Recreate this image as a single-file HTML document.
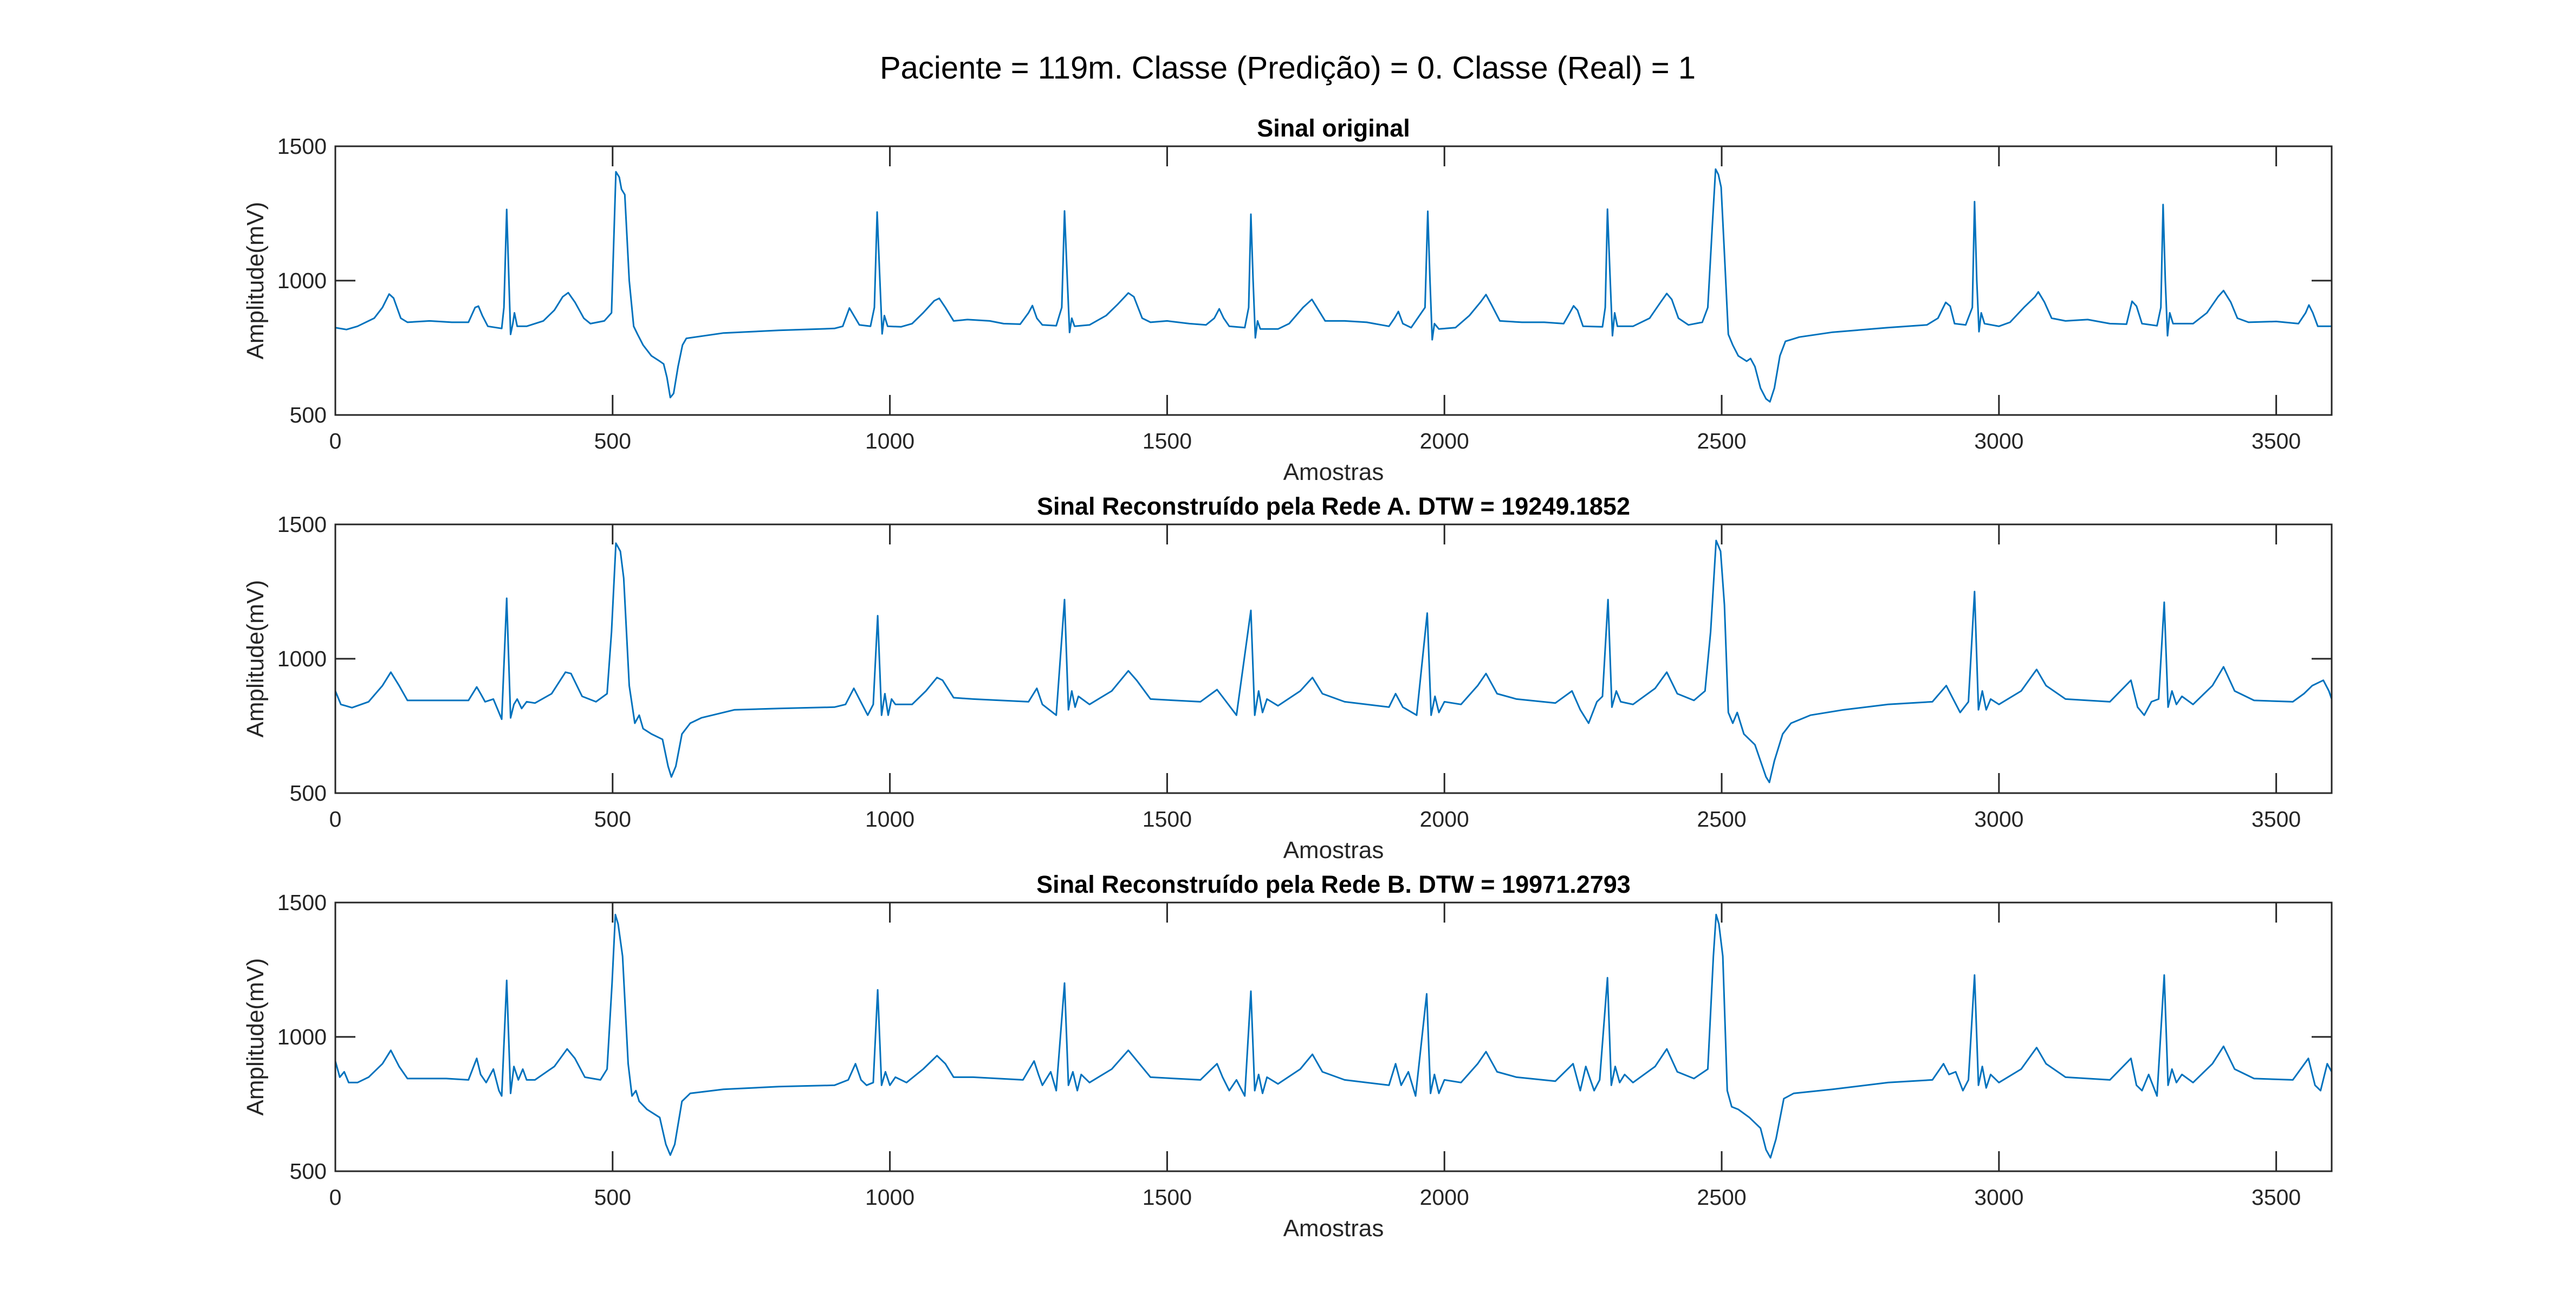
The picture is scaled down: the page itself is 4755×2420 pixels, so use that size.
<!DOCTYPE html>
<html><head><meta charset="utf-8"><style>html,body{margin:0;padding:0;background:#fff}svg{display:block}</style></head>
<body>
<svg id="fig" width="4755" height="2420" xmlns="http://www.w3.org/2000/svg" font-family="Liberation Sans, Arial, sans-serif">
<text x="2377" y="145" text-anchor="middle" font-size="58" fill="#000">Paciente = 119m. Classe (Predição) = 0. Classe (Real) = 1</text>
</svg>
<script>
const xTicks = [0,500,1000,1500,2000,2500,3000,3500];
const yTicks = [500,1000,1500];
const panelTitles = ["Sinal original","Sinal Reconstruído pela Rede A. DTW = 19249.1852","Sinal Reconstruído pela Rede B. DTW = 19971.2793"];
const origSignal = [[0,825],[20,818],[40,830],[70,860],[85,900],[97,950],[105,935],[118,860],[130,845],[170,850],[210,845],[240,845],[252,900],[258,905],[265,870],[275,830],[300,822],[304,900],[309,1265],[313,1000],[316,800],[320,840],[323,880],[328,830],[345,830],[375,850],[395,890],[410,940],[420,955],[432,920],[448,860],[460,840],[485,850],[498,880],[506,1405],[512,1385],[516,1340],[522,1320],[530,1000],[538,830],[545,800],[555,760],[570,720],[585,700],[592,690],[598,640],[604,565],[610,580],[618,680],[626,760],[633,785],[700,805],[800,815],[900,822],[915,830],[927,898],[935,870],[945,835],[965,830],[972,900],[977,1255],[982,1000],[986,802],[990,870],[996,830],[1020,828],[1040,840],[1060,880],[1080,925],[1089,934],[1100,900],[1115,850],[1140,855],[1180,850],[1205,840],[1235,838],[1250,880],[1257,907],[1265,860],[1275,835],[1300,832],[1310,900],[1315,1259],[1320,1000],[1324,807],[1328,860],[1333,830],[1360,835],[1390,870],[1410,910],[1430,954],[1440,940],[1455,860],[1470,845],[1500,850],[1540,840],[1570,835],[1585,860],[1594,895],[1602,860],[1612,830],[1640,825],[1647,900],[1651,1247],[1655,1000],[1659,787],[1663,850],[1668,820],[1700,820],[1720,840],[1745,900],[1761,930],[1770,900],[1785,850],[1820,850],[1860,845],[1900,830],[1910,860],[1917,885],[1925,840],[1940,825],[1965,900],[1970,1258],[1974,1000],[1978,780],[1982,840],[1990,820],[2020,825],[2045,870],[2065,920],[2075,948],[2085,910],[2100,850],[2140,845],[2180,845],[2215,840],[2226,880],[2233,906],[2240,890],[2250,830],[2285,828],[2290,900],[2294,1266],[2299,1000],[2303,795],[2307,880],[2312,830],[2340,830],[2370,860],[2390,920],[2401,952],[2410,930],[2422,860],[2440,835],[2465,845],[2475,900],[2483,1200],[2489,1415],[2494,1395],[2499,1348],[2505,1100],[2512,800],[2520,760],[2530,720],[2545,700],[2552,710],[2560,680],[2570,600],[2580,560],[2587,549],[2595,600],[2605,720],[2615,774],[2640,790],[2700,808],[2800,825],[2870,835],[2890,860],[2904,919],[2912,905],[2920,840],[2940,835],[2952,900],[2956,1294],[2960,1000],[2964,810],[2968,880],[2974,840],[3000,830],[3020,845],[3045,900],[3065,940],[3071,958],[3082,920],[3095,860],[3120,850],[3160,855],[3200,840],[3230,838],[3240,923],[3248,905],[3258,840],[3285,832],[3292,900],[3296,1283],[3300,1000],[3304,795],[3308,880],[3314,840],[3350,840],[3375,880],[3395,940],[3405,963],[3418,920],[3430,860],[3450,845],[3500,848],[3540,840],[3553,880],[3559,909],[3566,880],[3575,830],[3600,830]];
const redeASignal = [[0,880],[10,830],[30,818],[60,840],[85,900],[100,950],[115,900],[130,845],[200,845],[240,845],[255,895],[262,870],[270,840],[285,850],[300,775],[309,1225],[316,780],[322,830],[328,850],[336,815],[345,840],[360,835],[390,870],[415,950],[425,945],[445,860],[470,840],[490,870],[498,1100],[506,1430],[514,1400],[520,1300],[530,900],[540,760],[548,790],[555,740],[570,720],[590,700],[600,600],[606,560],[614,600],[625,720],[640,760],[660,780],[720,810],[800,815],[900,820],[920,830],[935,890],[945,850],[960,790],[970,830],[978,1160],[985,790],[991,870],[997,790],[1003,850],[1010,830],[1040,830],[1065,880],[1085,930],[1095,920],[1115,855],[1150,850],[1250,840],[1265,890],[1275,830],[1300,790],[1315,1220],[1322,810],[1328,880],[1334,820],[1340,860],[1360,830],[1400,880],[1430,955],[1445,920],[1470,850],[1560,840],[1590,885],[1603,850],[1625,790],[1651,1180],[1658,790],[1665,880],[1672,800],[1680,850],[1700,825],[1740,880],[1762,930],[1780,870],[1820,840],[1900,820],[1912,870],[1925,820],[1950,790],[1969,1170],[1976,790],[1983,860],[1990,800],[2000,840],[2030,830],[2060,900],[2075,945],[2095,870],[2130,850],[2200,835],[2230,880],[2245,810],[2260,760],[2275,840],[2285,860],[2295,1220],[2302,820],[2310,880],[2318,840],[2340,830],[2380,890],[2401,950],[2420,870],[2450,845],[2470,880],[2480,1100],[2490,1440],[2498,1400],[2505,1200],[2512,800],[2520,760],[2528,800],[2540,720],[2560,680],[2580,560],[2586,540],[2595,620],[2610,720],[2625,760],[2660,790],[2720,810],[2800,830],[2880,840],[2905,900],[2915,860],[2930,800],[2945,840],[2956,1250],[2963,810],[2970,880],[2977,810],[2985,850],[3000,830],[3040,880],[3068,960],[3085,900],[3120,850],[3200,840],[3238,920],[3250,820],[3262,790],[3275,840],[3288,850],[3298,1210],[3305,820],[3312,880],[3320,830],[3330,860],[3350,830],[3385,900],[3405,970],[3425,880],[3460,845],[3530,840],[3550,870],[3565,900],[3585,920],[3595,880],[3600,850]];
const redeBSignal = [[0,910],[8,850],[16,870],[24,830],[40,830],[60,850],[85,900],[100,950],[115,890],[130,845],[200,845],[240,840],[255,920],[262,860],[272,830],[285,880],[295,800],[300,780],[309,1210],[316,790],[322,890],[330,840],[338,880],[345,840],[360,840],[395,890],[418,955],[432,920],[450,850],[478,840],[490,880],[499,1200],[505,1455],[510,1420],[518,1300],[528,900],[535,780],[542,800],[548,760],[562,730],[585,700],[596,600],[604,560],[612,600],[625,760],[640,790],[700,805],[800,815],[900,820],[925,840],[938,900],[948,840],[958,820],[970,830],[978,1175],[985,820],[992,870],[1000,820],[1010,850],[1030,830],[1060,880],[1085,930],[1100,900],[1115,850],[1150,850],[1240,840],[1260,910],[1268,860],[1275,820],[1290,870],[1300,800],[1315,1200],[1322,820],[1330,870],[1338,800],[1345,860],[1360,830],[1400,880],[1430,950],[1450,900],[1470,850],[1560,840],[1590,900],[1600,850],[1612,800],[1625,840],[1640,780],[1651,1170],[1658,800],[1665,860],[1672,790],[1680,850],[1700,825],[1740,880],[1762,935],[1780,870],[1820,840],[1900,820],[1912,900],[1922,820],[1935,870],[1948,780],[1968,1160],[1975,790],[1982,860],[1990,790],[2000,840],[2030,830],[2060,900],[2075,945],[2095,870],[2130,850],[2200,835],[2232,900],[2245,800],[2255,890],[2270,800],[2280,840],[2294,1220],[2301,820],[2308,890],[2316,830],[2325,860],[2340,830],[2380,890],[2401,955],[2420,870],[2450,845],[2475,880],[2485,1300],[2490,1455],[2495,1420],[2502,1300],[2510,800],[2518,740],[2530,730],[2550,700],[2570,660],[2580,580],[2588,550],[2598,620],[2612,770],[2630,790],[2700,805],[2800,830],[2880,840],[2900,900],[2910,860],[2922,870],[2935,800],[2945,840],[2956,1230],[2963,820],[2970,890],[2977,810],[2985,860],[3000,830],[3040,880],[3068,960],[3085,900],[3120,850],[3200,840],[3238,920],[3248,820],[3258,800],[3270,860],[3285,780],[3298,1230],[3305,820],[3312,880],[3320,830],[3330,860],[3350,830],[3385,900],[3405,965],[3425,880],[3460,845],[3530,840],[3558,920],[3570,820],[3580,800],[3592,900],[3600,870]];

const NS = "http://www.w3.org/2000/svg";
const svg = document.getElementById("fig");
const L = 619, R = 4304, H = 496;
const tops = [270, 968, 1666];
const seriesList = [origSignal, redeASignal, redeBSignal];
function el(tag, attrs, parent) {
  const e = document.createElementNS(NS, tag);
  for (const k in attrs) e.setAttribute(k, attrs[k]);
  (parent || svg).appendChild(e);
  return e;
}
function xScale(v) { return L + (v / 3600) * (R - L); }
function yScaleFor(top) { return v => top + H - ((v - 500) / 1000) * H; }

tops.forEach((top, i) => {
  const bottom = top + H;
  const y = yScaleFor(top);
  const g = el("g", {});
  
  
  const d = seriesList[i].map((p, j) => (j ? "L" : "M") + xScale(p[0]).toFixed(1) + "," + y(p[1]).toFixed(1)).join("");
  const line = el("path", { d: d, fill: "none", stroke: "#0072BD", "stroke-width": 3, "stroke-linejoin": "round" }, g);
  
  
  const box = el("rect", { x: L, y: top, width: R - L, height: H, fill: "none", stroke: "#262626", "stroke-width": 3 }, g);
  
  
  xTicks.forEach(t => {
    const xx = xScale(t);
    el("line", { x1: xx, x2: xx, y1: bottom, y2: bottom - 37, stroke: "#262626", "stroke-width": 3 }, g);
    el("line", { x1: xx, x2: xx, y1: top, y2: top + 37, stroke: "#262626", "stroke-width": 3 }, g);
    const tl = el("text", { x: xx, y: bottom + 62, "text-anchor": "middle", "font-size": 41, fill: "#262626" }, g);
    tl.textContent = t;
    
    
  });
  yTicks.forEach(t => {
    const yy = y(t);
    el("line", { x1: L, x2: L + 37, y1: yy, y2: yy, stroke: "#262626", "stroke-width": 3 }, g);
    el("line", { x1: R, x2: R - 37, y1: yy, y2: yy, stroke: "#262626", "stroke-width": 3 }, g);
    const tl = el("text", { x: L - 16, y: yy + 14, "text-anchor": "end", "font-size": 41, fill: "#262626" }, g);
    tl.textContent = t;
    
    
  });
  const xl = el("text", { x: (L + R) / 2, y: bottom + 120, "text-anchor": "middle", "font-size": 44, fill: "#262626" }, g);
  xl.textContent = "Amostras";
  
  
  const yc = top + H / 2;
  const yl = el("text", { x: 486, y: yc, "text-anchor": "middle", "font-size": 44, fill: "#262626", transform: "rotate(-90 486 " + yc + ")" }, g);
  yl.textContent = "Amplitude(mV)";
  
  
  const tt = el("text", { x: (L + R) / 2, y: top - 18, "text-anchor": "middle", "font-size": 45, "font-weight": "bold", fill: "#000" }, g);
  tt.textContent = panelTitles[i];
  
  
});
</script>
</body></html>
